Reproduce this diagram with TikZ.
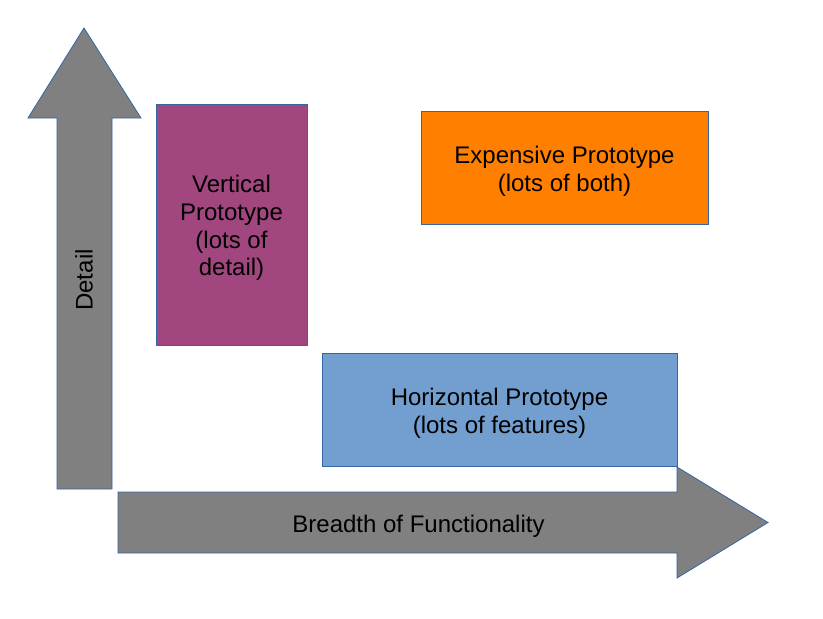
\documentclass[tikz,border=0pt]{standalone}
\usepackage{fontspec}
\setmainfont{Liberation Sans}
\usepackage{tikz}
\definecolor{vpurple}{HTML}{A1467E}
\definecolor{eorange}{HTML}{FF8000}
\definecolor{hblue}{HTML}{729FCF}
\definecolor{agray}{HTML}{808080}
\definecolor{edge}{HTML}{3465A4}

\begin{document}
\begin{tikzpicture}[x=1pt,y=-1pt,
    box/.style={draw=edge, line width=0.8pt, inner sep=0pt},
    boxtext/.style={align=center, yshift=-3.5pt},
    bigarrow/.style={draw=edge, line width=0.8pt, fill=agray},
    every node/.style={font=\fontsize{24}{27.6}\selectfont}]
    \useasboundingbox[fill=white] (0,0) rectangle (823,619);
    % axes
    \draw[bigarrow] (57,489) -- (57,118) -- (28,118) -- (84,28) -- (141,118)
      -- (112,118) -- (112,489) -- cycle;
    \node[rotate=90] (detail) at (84,280) {Detail};
    % prototypes
    \node[box, fill=vpurple, minimum width=151pt, minimum height=241pt] (vert) at (231.5,224.5) {};
    \node[boxtext] (vertlbl) at (vert.center) {Vertical\\Prototype\\(lots of\\detail)};
    \node[box, fill=eorange, minimum width=287pt, minimum height=113pt] (expens) at (564.5,167.5) {};
    \node[boxtext] (expenslbl) at (expens.center) {Expensive Prototype\\(lots of both)};
    \node[box, fill=hblue, minimum width=355pt, minimum height=113pt] (horiz) at (499.5,409.5) {};
    \node[boxtext] (horizlbl) at (horiz.center) {Horizontal Prototype\\(lots of features)};
    \draw[bigarrow] (118,492) -- (677,492) -- (677,467) -- (768,522.5) -- (677,578)
      -- (677,553) -- (118,553) -- cycle;
    \node (breadth) at (418.5,526) {Breadth of Functionality};
\end{tikzpicture}
\end{document}
